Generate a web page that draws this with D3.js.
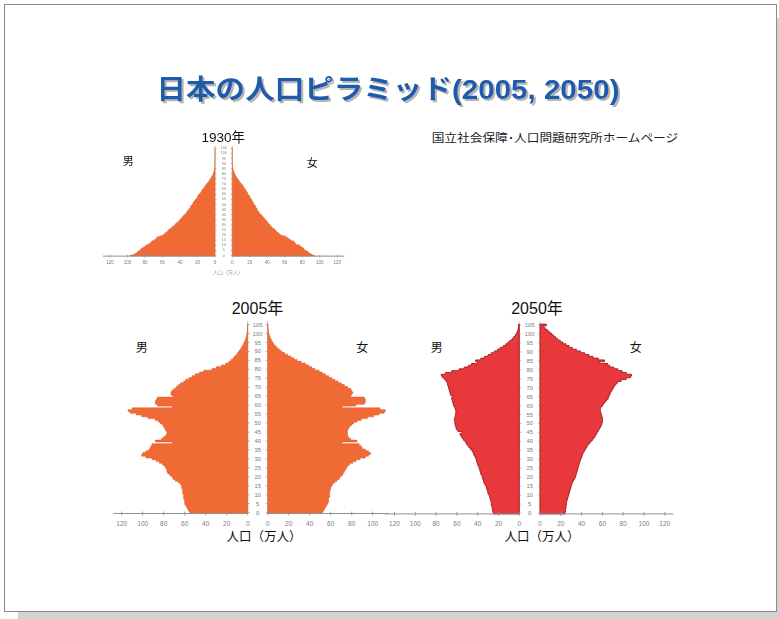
<!DOCTYPE html>
<html>
<head>
<meta charset="utf-8">
<script src="https://cdn.jsdelivr.net/npm/d3@7"></script>
<style>
  html, body { margin: 0; padding: 0; background: #fff; }
  svg { display: block; font-family: "Liberation Sans", "Noto Sans CJK JP", sans-serif; }
</style>
</head>
<body>
<svg id="slide" width="779" height="619"></svg>
<script>
// Ages 0..105 (single years), population in 万人
const ages = d3.range(0, 106);
const ageTicks = [0, 5, 10, 15, 20, 25, 30, 35, 40, 45, 50, 55, 60, 65, 70, 75, 80, 85, 90, 95, 100, 105];
const popTicks = [0, 20, 40, 60, 80, 100, 120];
const popTicksShort = [0, 20, 40, 60, 80, 100];

const male1930 = [
  97, 93, 91, 89, 88, 86, 85, 84, 82, 80,
  79, 76, 74, 73, 72, 70, 68, 67, 66, 63,
  60, 58, 57, 55, 54, 53, 52, 50, 49, 47,
  46, 45, 44, 42, 41, 40, 39, 38, 37, 36,
  35, 33, 33, 32, 31, 30, 29, 28, 28, 27,
  26, 25, 25, 24, 23, 22, 21, 20, 20, 19,
  18, 17, 16, 15.5, 15, 14, 13, 12, 11.5, 10.5,
  9.5, 8.5, 7.5, 6.8, 6, 5.2, 4.5, 3.8, 3.2, 2.6,
  2.1, 1.7, 1.3, 1, 0.8, 0.6, 0.45, 0.35, 0.25, 0.2,
  0.15, 0.1, 0.1, 0.05, 0.05, 0.05, 0, 0, 0, 0,
  0, 0, 0, 0, 0, 0
];
const female1930 = [
  94, 91, 89, 87, 86, 84, 82, 82, 80, 78,
  77, 73, 72, 71, 70, 67, 65, 64, 62, 60,
  56, 54, 53, 51, 50, 49, 48, 46, 45, 44,
  43, 42, 41, 40, 39, 38, 37, 36, 35, 34,
  33, 31, 31, 30, 29, 28.5, 28, 27, 27, 26,
  25, 24, 24, 23, 22.5, 22, 21, 20, 20, 19,
  18, 17.5, 17, 16, 15.5, 15, 14, 13, 12.5, 11.5,
  10.5, 9.5, 8.5, 7.8, 7, 6.2, 5.4, 4.6, 3.9, 3.3,
  2.7, 2.2, 1.8, 1.4, 1.1, 0.85, 0.65, 0.5, 0.38, 0.28,
  0.2, 0.15, 0.1, 0.1, 0.05, 0.05, 0, 0, 0, 0,
  0, 0, 0, 0, 0, 0
];

const male2005 = [
  55, 56, 57, 58, 59, 60, 60, 60, 61, 61,
  61, 62, 62, 62, 63, 63, 64, 66, 69, 71,
  72, 74, 76, 77, 77, 78, 79, 81, 84, 87,
  91, 97, 101, 100, 97, 94, 93, 92, 91, 72,
  88, 82, 80, 78, 77, 77, 78, 79, 80, 81,
  83, 85, 88, 95, 101, 106, 112, 114, 110, 72,
  86, 88, 88, 87, 86, 71, 73, 73, 72, 70,
  68, 66, 64, 61, 59, 56, 53, 50, 46, 42,
  34, 30, 25, 21, 18, 16, 14, 12.5, 11, 9.5,
  8.5, 7, 6, 5, 4.2, 3.3, 2.5, 1.9, 1.4, 1.0,
  0.7, 0.5, 0.3, 0.2, 0.1, 0.1
];
const female2005 = [
  52, 53, 54, 55, 56, 57, 58, 58, 58, 59,
  59, 59, 59, 60, 60, 61, 62, 64, 66, 68,
  69, 71, 72, 73, 74, 75, 76, 78, 81, 84,
  88, 93, 96, 98, 96, 93, 90, 89, 87, 71,
  85, 79, 77, 76, 76, 76, 76, 77, 78, 80,
  82, 85, 89, 95, 101, 106, 111, 112, 107, 71,
  84, 92, 93, 93, 92, 79, 80, 81, 80, 79,
  76, 73, 70, 67, 64, 61, 58, 55, 52, 49,
  45, 42, 39, 36, 32, 28, 25, 22, 19, 16,
  13, 11, 9, 7.5, 6, 4.8, 3.8, 2.9, 2.2, 1.6,
  1.1, 0.8, 0.5, 0.3, 0.2, 0.1
];

const male2050 = [
  25, 25.5, 26, 26, 26.5, 27, 27, 27.5, 28, 28.5,
  29, 30, 30.5, 31, 31.5, 32, 33, 34, 34.5, 35,
  35.5, 36, 37, 37.5, 38, 38.5, 39, 40, 40.5, 41,
  41.5, 42, 43, 44, 44.5, 45.5, 47, 48.5, 50, 51,
  52, 53.5, 55, 56, 57, 55, 59, 60.5, 61, 61.5,
  62, 62, 62.5, 62, 61.5, 61.5, 61, 61, 61.5, 62,
  63, 63.5, 64, 64.5, 65, 64, 66, 66.5, 67, 67.5,
  68, 68.5, 69, 69.5, 70.5, 72, 74, 75, 71, 65,
  58, 53, 49, 46, 40, 42, 37, 33.5, 30, 27,
  24, 21, 18.5, 15.5, 13, 11, 9, 7, 5.5, 4,
  3, 2, 1.4, 0.9, 0.6, 0.8
];
const female2050 = [
  24, 24.5, 24.5, 25, 25, 25.5, 25.5, 26, 26.5, 27,
  27.5, 28, 28.5, 29, 29.5, 30, 30.5, 31, 32, 33,
  34, 34.5, 35, 35.5, 36, 36.5, 37, 37.5, 38, 38.5,
  39, 40, 40.5, 41, 42, 43, 44, 45, 46, 47.5,
  49, 50.5, 52, 53, 54, 55, 56, 57, 58, 59,
  59.5, 60, 60, 60, 59.5, 59, 58.5, 58, 58, 58.5,
  60, 61, 62.5, 64, 65.5, 66, 67, 67.5, 68.5, 69.5,
  70.5, 71.5, 73, 74.5, 78, 83, 87, 88, 83, 79,
  75, 71, 67, 65, 57, 62, 56, 51, 47, 43,
  39, 35, 31, 28, 25, 22, 19.5, 17, 15, 13,
  11, 9, 7, 5, 3.5, 6
];

const svg = d3.select("#slide");
const defs = svg.append("defs");

// soft-focus filter for the small, low-resolution 1930 pyramid
defs.append("filter").attr("id", "soft")
  .attr("x", "-5%").attr("y", "-5%").attr("width", "110%").attr("height", "110%")
  .append("feGaussianBlur").attr("stdDeviation", 0.45);

// grey drop shadow behind the slide title
const shadow = defs.append("filter").attr("id", "titleShadow")
  .attr("x", "-5%").attr("y", "-20%").attr("width", "110%").attr("height", "150%");
shadow.append("feOffset").attr("in", "SourceAlpha").attr("dx", 2).attr("dy", 2).attr("result", "off");
shadow.append("feFlood").attr("flood-color", "#b5b5b5").attr("result", "col");
shadow.append("feComposite").attr("in", "col").attr("in2", "off").attr("operator", "in").attr("result", "sh");
const merge = shadow.append("feMerge");
merge.append("feMergeNode").attr("in", "sh");
merge.append("feMergeNode").attr("in", "SourceGraphic");

// slide frame with drop shadow
svg.append("rect").attr("x", 18).attr("y", 18).attr("width", 761).attr("height", 601).attr("fill", "#d2d2d2");
svg.append("rect").attr("x", 4.5).attr("y", 4.5).attr("width", 772).attr("height", 607)
  .attr("fill", "#fff").attr("stroke", "#8a8a8a").attr("stroke-width", 1);

// slide title
svg.append("text")
  .attr("x", 388).attr("y", 99)
  .attr("text-anchor", "middle")
  .attr("font-size", 27).attr("font-weight", 700)
  .attr("textLength", 463).attr("lengthAdjust", "spacingAndGlyphs")
  .attr("fill", "#1b5cab")
  .attr("filter", "url(#titleShadow)")
  .text("日本の人口ピラミッド(2005, 2050)");

svg.append("text")
  .attr("x", 431.7).attr("y", 142.3)
  .attr("font-size", 11.5).attr("fill", "#222")
  .attr("textLength", 246.5).attr("lengthAdjust", "spacingAndGlyphs")
  .text("国立社会保障･人口問題研究所ホームページ");

function drawPyramid(o) {
  const g = svg.append("g");
  if (o.blur) g.attr("filter", "url(#soft)");

  const y = d3.scaleLinear().domain([0, 105]).range([o.y0, o.y105]);
  const xl = d3.scaleLinear().domain([0, 120]).range([o.leftZero, o.leftZero - 120 * o.unit]);
  const xr = d3.scaleLinear().domain([0, 120]).range([o.rightZero, o.rightZero + 120 * o.unit]);
  const base = y(-0.5);

  // stepped outline: one step per single-year age band
  const line = d3.line();
  function shape(values, x, zero) {
    const pts = [[zero, y(-0.5)]];
    ages.forEach(a => {
      pts.push([x(values[a]), y(a - 0.5)]);
      pts.push([x(values[a]), y(a + 0.5)]);
    });
    pts.push([zero, y(105.5)]);
    return line(pts) + "Z";
  }

  // vertical axis lines at both zero edges
  [o.leftZero, o.rightZero].forEach(x0 => {
    g.append("line").attr("x1", x0).attr("x2", x0)
      .attr("y1", base).attr("y2", y(107))
      .attr("stroke", "#9a9a9a").attr("stroke-width", 0.6);
  });

  g.append("path").attr("d", shape(o.male, xl, o.leftZero))
    .attr("fill", o.fill).attr("stroke", o.stroke).attr("stroke-width", o.strokeWidth)
    .attr("stroke-linejoin", "miter");
  g.append("path").attr("d", shape(o.female, xr, o.rightZero))
    .attr("fill", o.fill).attr("stroke", o.stroke).attr("stroke-width", o.strokeWidth)
    .attr("stroke-linejoin", "miter");

  // age labels in the centre column
  const cx = (o.leftZero + o.rightZero) / 2;
  const ageG = g.append("g");
  ageTicks.forEach(a => {
    ageG.append("text").attr("x", cx).attr("y", y(a))
      .attr("text-anchor", "middle").attr("dominant-baseline", "central")
      .attr("font-size", o.ageFont).attr("fill", "#7a7a7a").text(a);
    ageG.append("line").attr("x1", o.leftZero).attr("x2", o.leftZero + o.ageTick)
      .attr("y1", y(a)).attr("y2", y(a)).attr("stroke", "#8a8a8a").attr("stroke-width", 0.6);
    ageG.append("line").attr("x1", o.rightZero - o.ageTick).attr("x2", o.rightZero)
      .attr("y1", y(a)).attr("y2", y(a)).attr("stroke", "#8a8a8a").attr("stroke-width", 0.6);
  });

  // population axes (left = male, right = female)
  const axG = g.append("g");
  axG.append("line").attr("x1", xl(o.axisMaxL)).attr("x2", o.leftZero)
    .attr("y1", base).attr("y2", base).attr("stroke", "#8f8f8f").attr("stroke-width", 1);
  axG.append("line").attr("x1", o.rightZero).attr("x2", xr(o.axisMaxR))
    .attr("y1", base).attr("y2", base).attr("stroke", "#8f8f8f").attr("stroke-width", 1);
  function ticks(vals, x) {
    vals.forEach(v => {
      axG.append("line").attr("x1", x(v)).attr("x2", x(v))
        .attr("y1", base - o.tickLen).attr("y2", base + o.tickLen)
        .attr("stroke", "#8f8f8f").attr("stroke-width", 0.8);
      axG.append("text").attr("x", x(v)).attr("y", base + o.tickDy)
        .attr("text-anchor", "middle").attr("dominant-baseline", "central")
        .attr("font-size", o.tickFont).attr("fill", "#7d7d7d").text(v);
    });
  }
  ticks(o.ticksL, xl);
  ticks(o.ticksR, xr);

  // titles and labels
  g.append("text").attr("x", o.title[0]).attr("y", o.title[1])
    .attr("text-anchor", "middle").attr("font-size", o.titleSize).attr("fill", "#111")
    .text(o.titleText);
  g.append("text").attr("x", o.maleLabel[0]).attr("y", o.maleLabel[1])
    .attr("text-anchor", "middle").attr("dominant-baseline", "central")
    .attr("font-size", o.sexSize).attr("fill", "#111").text("男");
  g.append("text").attr("x", o.femaleLabel[0]).attr("y", o.femaleLabel[1])
    .attr("text-anchor", "middle").attr("dominant-baseline", "central")
    .attr("font-size", o.sexSize).attr("fill", "#111").text("女");
  g.append("text").attr("x", o.unitLabel[0]).attr("y", o.unitLabel[1])
    .attr("text-anchor", "middle").attr("dominant-baseline", "central")
    .attr("font-size", o.unitSize).attr("fill", o.unitColor).text("人口（万人）");
}

drawPyramid({
  male: male1930, female: female1930, blur: true,
  y0: 255.6, y105: 148.3, leftZero: 215, rightZero: 232.3, unit: 0.875,
  axisMaxL: 128, axisMaxR: 128, ticksL: popTicks, ticksR: popTicks,
  fill: "#ef6b36", stroke: "#d9582a", strokeWidth: 0.4,
  ageFont: 3.6, ageTick: 1.5, tickFont: 4.6, tickDy: 6.6, tickLen: 1.2,
  titleText: "1930年", title: [223.3, 141.8], titleSize: 13.5,
  maleLabel: [128.3, 160.7], femaleLabel: [312.3, 163.3], sexSize: 11,
  unitLabel: [228, 271.7], unitSize: 5, unitColor: "#9a9a9a"
});

drawPyramid({
  male: male2005, female: female2005,
  y0: 512.6, y105: 324.6, leftZero: 247.7, rightZero: 267.7, unit: 1.05,
  axisMaxL: 128, axisMaxR: 115, ticksL: popTicks, ticksR: popTicksShort,
  fill: "#f06a35", stroke: "#d95426", strokeWidth: 0.5,
  ageFont: 5.8, ageTick: 2, tickFont: 6.5, tickDy: 10, tickLen: 2,
  titleText: "2005年", title: [257.5, 313.5], titleSize: 16,
  maleLabel: [141.7, 348.3], femaleLabel: [362.3, 348.3], sexSize: 12,
  unitLabel: [264, 536.7], unitSize: 12.5, unitColor: "#111"
});

drawPyramid({
  male: male2050, female: female2050,
  y0: 513, y105: 325, leftZero: 519.3, rightZero: 540, unit: 1.04,
  axisMaxL: 129, axisMaxR: 128, ticksL: popTicks, ticksR: popTicks,
  fill: "#e8383c", stroke: "#a51e22", strokeWidth: 0.9,
  ageFont: 5.8, ageTick: 2, tickFont: 6.5, tickDy: 10, tickLen: 2,
  titleText: "2050年", title: [537, 313.5], titleSize: 16,
  maleLabel: [436.7, 348.3], femaleLabel: [635.7, 348.3], sexSize: 12,
  unitLabel: [542, 536.7], unitSize: 12.5, unitColor: "#111"
});
</script>
</body>
</html>
